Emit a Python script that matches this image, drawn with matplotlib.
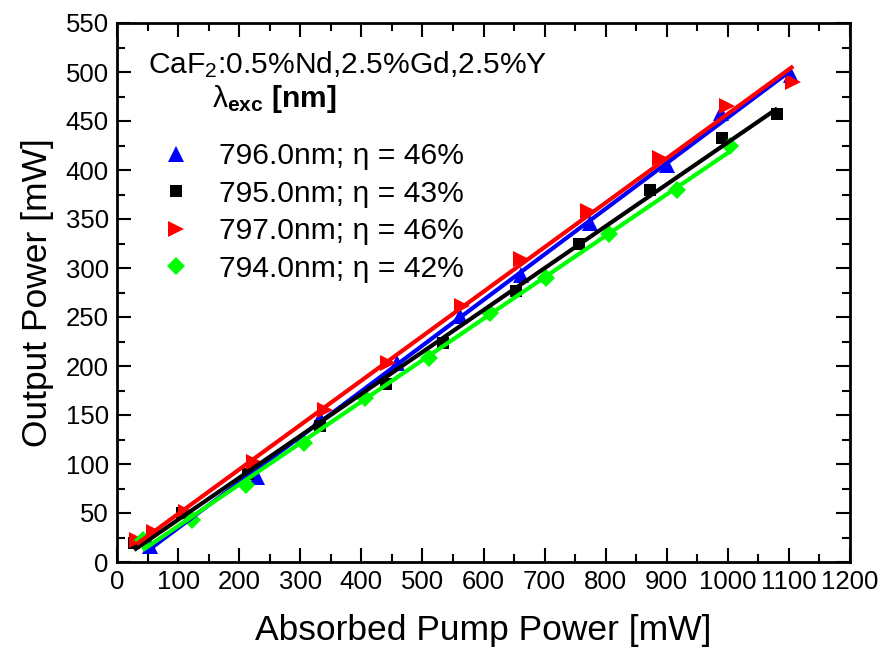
import numpy as np
import matplotlib
matplotlib.use("Agg")
import matplotlib.pyplot as plt

plt.rcParams['font.family'] = ['Liberation Sans', 'DejaVu Sans']
plt.rcParams['mathtext.fontset'] = 'custom'
plt.rcParams['mathtext.rm'] = 'Liberation Sans'
plt.rcParams['mathtext.it'] = 'Liberation Sans:italic'
plt.rcParams['mathtext.bf'] = 'Liberation Sans:bold'

# --- data ---
x_796 = [54, 229, 332, 458, 561, 662, 774, 901, 988, 1104]
y_796 = [16, 87, 147, 203, 251, 293, 346, 405, 458, 497]

x_795 = [28, 107, 215, 333, 440, 533, 653, 757, 872, 991, 1081]
y_795 = [19, 50, 90, 139, 182, 223, 277, 325, 380, 433, 457]

x_797 = [32, 60, 113, 224, 341, 444, 564, 662, 771, 889, 998, 1107]
y_797 = [22, 31, 51, 102, 155, 203, 261, 309, 358, 412, 465, 490]

x_794 = [42, 122, 212, 306, 406, 510, 611, 703, 806, 916, 1003]
y_794 = [22, 43, 79, 121, 167, 208, 254, 290, 335, 380, 424]

labels = ["796.0nm; \u03b7 = 46%", "795.0nm; \u03b7 = 43%",
          "797.0nm; \u03b7 = 46%", "794.0nm; \u03b7 = 42%"]

series = [
    (x_796, y_796, '#0000ff', '^', 11),
    (x_795, y_795, '#000000', 's', 8.5),
    (x_797, y_797, '#ff0000', '>', 11),
    (x_794, y_794, '#00ff00', 'D', 9),
]

fig = plt.figure(figsize=(8.83, 6.55), dpi=100)
ax = fig.add_axes([117/883, 93/655, 733/883, 539/655])

handles = []
for i, (xs, ys, c, m, ms) in enumerate(series):
    xs = np.array(xs, float); ys = np.array(ys, float)
    h, = ax.plot(xs, ys, linestyle='none', marker=m, color=c, markersize=ms,
                 markeredgewidth=0, zorder=2, label=labels[i])
    handles.append(h)
for i, (xs, ys, c, m, ms) in enumerate(series):
    xs = np.array(xs, float); ys = np.array(ys, float)
    p = np.polyfit(xs, ys, 1)
    xl = np.array([xs.min(), xs.max()])
    ax.plot(xl, np.polyval(p, xl), color=c, linewidth=3, zorder=3,
            solid_capstyle='butt')

ax.set_xlim(0, 1200)
ax.set_ylim(0, 550)
ax.set_xticks(np.arange(0, 1201, 100))
ax.set_yticks(np.arange(0, 551, 50))
ax.set_xticks(np.arange(50, 1200, 100), minor=True)
ax.set_yticks(np.arange(25, 550, 50), minor=True)
ax.tick_params(which='both', direction='in', top=True, right=True,
               labeltop=False, labelright=False)
ax.tick_params(which='major', length=10, width=1.5, labelsize=18.5, pad=6)
ax.tick_params(which='minor', length=6, width=1.5)
for s in ax.spines.values():
    s.set_linewidth(2)

ax.set_xlabel("Absorbed Pump Power [mW]", fontsize=25.5, labelpad=14)
ax.set_ylabel("Output Power [mW]", fontsize=25.5, labelpad=8)

ax.text(0.042, 0.907, "CaF$_2$:0.5%Nd,2.5%Gd,2.5%Y", transform=ax.transAxes,
        fontsize=21.6, va='baseline', ha='left')
ax.text(0.129, 0.844, "\u03bb$_{\\mathbf{exc}}$ $\\mathbf{[nm]}$",
        transform=ax.transAxes, fontsize=21.6, va='baseline', ha='left')

leg = ax.legend(handles=handles, loc='upper left', bbox_to_anchor=(0.060, 0.779),
                frameon=False, fontsize=21.6, handlelength=1.0,
                handletextpad=0.95, labelspacing=0.32, borderpad=0,
                borderaxespad=0, numpoints=1)

fig.savefig("out.png", dpi=100)
